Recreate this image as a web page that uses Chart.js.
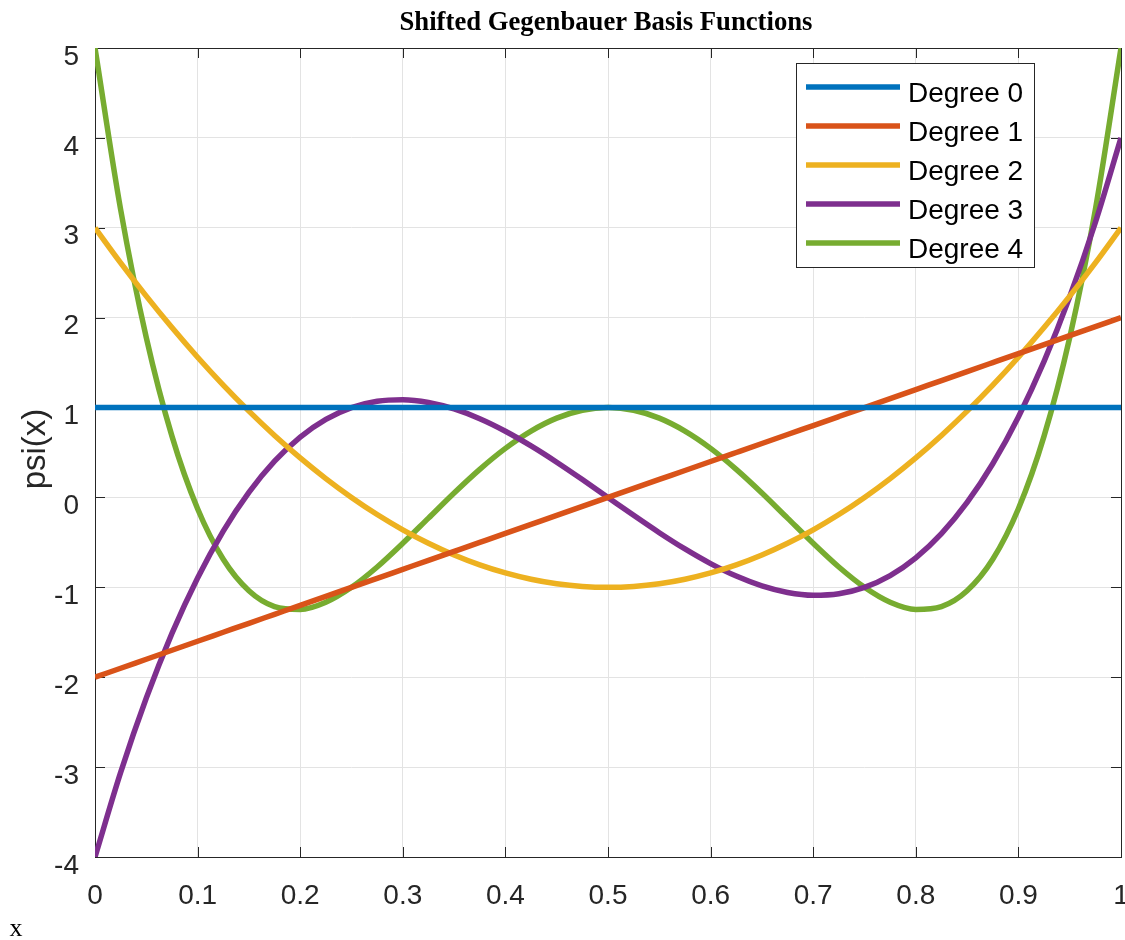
<!DOCTYPE html>
<html>
<head>
<meta charset="utf-8">
<script src="https://cdn.jsdelivr.net/npm/chart.js@4.4.1/dist/chart.umd.min.js"></script>
<style>
  html, body { margin: 0; padding: 0; background: #ffffff; }
  #wrap { width: 1125px; height: 940px; position: relative; }
</style>
</head>
<body>
<div id="wrap"><canvas id="c" width="1125" height="940"></canvas></div>
<script>
const titleText = 'Shifted Gegenbauer Basis Functions';
const xLabelText = 'x';
const yLabelText = 'psi(x)';
const seriesLabels = ['Degree 0', 'Degree 1', 'Degree 2', 'Degree 3', 'Degree 4'];
const seriesColors = ['#0072BD', '#D95319', '#EDB120', '#7E2F8E', '#77AC30'];

const xTicks = [0, 0.1, 0.2, 0.3, 0.4, 0.5, 0.6, 0.7, 0.8, 0.9, 1];
const xTickLabels = ['0', '0.1', '0.2', '0.3', '0.4', '0.5', '0.6', '0.7', '0.8', '0.9', '1'];
const yTicks = [-4, -3, -2, -1, 0, 1, 2, 3, 4, 5];
const yTickLabels = ['-4', '-3', '-2', '-1', '0', '1', '2', '3', '4', '5'];

const xValues = [0, 0.025, 0.05, 0.075, 0.1, 0.125, 0.15, 0.175, 0.2, 0.225,
  0.25, 0.275, 0.3, 0.325, 0.35, 0.375, 0.4, 0.425, 0.45, 0.475,
  0.5, 0.525, 0.55, 0.575, 0.6, 0.625, 0.65, 0.675, 0.7, 0.725,
  0.75, 0.775, 0.8, 0.825, 0.85, 0.875, 0.9, 0.925, 0.95, 0.975, 1];

const degree0 = [1, 1, 1, 1, 1, 1, 1, 1, 1, 1,
  1, 1, 1, 1, 1, 1, 1, 1, 1, 1,
  1, 1, 1, 1, 1, 1, 1, 1, 1, 1,
  1, 1, 1, 1, 1, 1, 1, 1, 1, 1, 1];

const degree1 = [-2, -1.9, -1.8, -1.7, -1.6, -1.5, -1.4, -1.3, -1.2, -1.1,
  -1, -0.9, -0.8, -0.7, -0.6, -0.5, -0.4, -0.3, -0.2, -0.1,
  0, 0.1, 0.2, 0.3, 0.4, 0.5, 0.6, 0.7, 0.8, 0.9,
  1, 1.1, 1.2, 1.3, 1.4, 1.5, 1.6, 1.7, 1.8, 1.9, 2];

const degree2 = [3, 2.61, 2.24, 1.89, 1.56, 1.25, 0.96, 0.69, 0.44, 0.21,
  0, -0.19, -0.36, -0.51, -0.64, -0.75, -0.84, -0.91, -0.96, -0.99,
  -1, -0.99, -0.96, -0.91, -0.84, -0.75, -0.64, -0.51, -0.36, -0.19,
  0, 0.21, 0.44, 0.69, 0.96, 1.25, 1.56, 1.89, 2.24, 2.61, 3];

const degree3 = [-4, -3.059, -2.232, -1.513, -0.896, -0.375, 0.056, 0.403, 0.672, 0.869,
  1, 1.071, 1.088, 1.057, 0.984, 0.875, 0.736, 0.573, 0.392, 0.199,
  0, -0.199, -0.392, -0.573, -0.736, -0.875, -0.984, -1.057, -1.088, -1.071,
  -1, -0.869, -0.672, -0.403, -0.056, 0.375, 0.896, 1.513, 2.232, 3.059, 4];

const degree4 = [5, 3.202, 1.778, 0.682, -0.126, -0.688, -1.038, -1.214, -1.246, -1.166,
  -1, -0.774, -0.51, -0.23, 0.05, 0.313, 0.546, 0.738, 0.882, 0.97,
  1, 0.97, 0.882, 0.738, 0.546, 0.313, 0.05, -0.23, -0.51, -0.774,
  -1, -1.166, -1.246, -1.214, -1.038, -0.688, -0.126, 0.682, 1.778, 3.202, 5];

const seriesValues = [degree0, degree1, degree2, degree3, degree4];

const SANS = '"Liberation Sans", Arial, Helvetica, sans-serif';
const SERIF = '"Liberation Serif", "Times New Roman", serif';
const AXIS_COLOR = '#262626';

const datasets = seriesValues.map((vals, k) => ({
  label: seriesLabels[k],
  data: xValues.map((x, i) => ({ x: x, y: vals[i] })),
  borderColor: seriesColors[k],
  backgroundColor: seriesColors[k],
  borderWidth: 5.5,
  pointRadius: 0,
  pointHoverRadius: 0,
  fill: false,
  cubicInterpolationMode: 'monotone'
}));

const framePlugin = {
  id: 'frame',
  beforeDatasetsDraw(chart) {
    const { ctx, chartArea: a, scales } = chart;
    ctx.save();
    ctx.strokeStyle = AXIS_COLOR;
    ctx.lineWidth = 1;
    ctx.beginPath();
    const tl = 10;
    xTicks.forEach(v => {
      const px = Math.round(scales.x.getPixelForValue(v)) + 0.5;
      ctx.moveTo(px, a.bottom); ctx.lineTo(px, a.bottom - tl);
      ctx.moveTo(px, a.top); ctx.lineTo(px, a.top + tl);
    });
    yTicks.forEach(v => {
      const py = Math.round(scales.y.getPixelForValue(v)) + 0.5;
      ctx.moveTo(a.left, py); ctx.lineTo(a.left + tl, py);
      ctx.moveTo(a.right, py); ctx.lineTo(a.right - tl, py);
    });
    ctx.stroke();
    ctx.strokeRect(Math.round(a.left) + 0.5, Math.round(a.top) + 0.5,
      Math.round(a.right - a.left), Math.round(a.bottom - a.top));
    ctx.restore();
  },
  afterDraw(chart) {
    const { ctx, chartArea: a } = chart;
    ctx.save();
    // title
    ctx.fillStyle = '#000000';
    ctx.font = 'bold 26.7px ' + SERIF;
    ctx.textAlign = 'center';
    ctx.textBaseline = 'alphabetic';
    ctx.fillText(titleText, 606, 30);
    // x label
    ctx.font = '26px ' + SERIF;
    ctx.fillText(xLabelText, 16, 936);
    // y label
    ctx.save();
    ctx.translate(36, 449);
    ctx.rotate(-Math.PI / 2);
    ctx.fillStyle = AXIS_COLOR;
    ctx.font = '33px ' + SANS;
    ctx.textBaseline = 'middle';
    ctx.fillText(yLabelText, 0, 0);
    ctx.restore();
    // legend
    const bx = 796.5, by = 63.5, bw = 238, bh = 204;
    ctx.fillStyle = '#ffffff';
    ctx.fillRect(bx, by, bw, bh);
    ctx.strokeStyle = AXIS_COLOR;
    ctx.lineWidth = 1;
    ctx.strokeRect(bx, by, bw, bh);
    ctx.font = '28px ' + SANS;
    ctx.textAlign = 'left';
    ctx.textBaseline = 'middle';
    chart.data.datasets.forEach((ds, k) => {
      const ry = 87 + k * 39;
      ctx.strokeStyle = ds.borderColor;
      ctx.lineWidth = 5.5;
      ctx.beginPath();
      ctx.moveTo(806, ry);
      ctx.lineTo(900, ry);
      ctx.stroke();
      ctx.fillStyle = '#000000';
      ctx.fillText(ds.label, 908, ry + 7);
    });
    ctx.restore();
  }
};

new Chart(document.getElementById('c'), {
  type: 'line',
  data: { datasets: datasets },
  options: {
    responsive: false,
    animation: false,
    devicePixelRatio: 1,
    layout: { padding: { top: 48, right: 4, left: 0, bottom: 0 } },
    plugins: {
      legend: { display: false },
      title: { display: false },
      tooltip: { enabled: false }
    },
    scales: {
      x: {
        type: 'linear',
        min: 0,
        max: 1,
        afterBuildTicks: s => { s.ticks = xTicks.map(v => ({ value: v })); },
        afterFit: s => { s.height = 83; s.paddingLeft = 0; s.paddingRight = 0; },
        ticks: {
          autoSkip: false,
          maxRotation: 0,
          padding: 22,
          color: AXIS_COLOR,
          font: { family: SANS, size: 28 },
          callback: (v, i) => xTickLabels[i]
        },
        grid: { color: '#e3e3e3', lineWidth: 1, drawTicks: false },
        border: { display: false }
      },
      y: {
        type: 'linear',
        min: -4,
        max: 5,
        afterBuildTicks: s => { s.ticks = yTicks.map(v => ({ value: v })); },
        afterFit: s => { s.width = 95; s.paddingTop = 0; s.paddingBottom = 0; },
        ticks: {
          autoSkip: false,
          padding: 16,
          labelOffset: 9,
          color: AXIS_COLOR,
          font: { family: SANS, size: 28 },
          callback: (v, i) => yTickLabels[i]
        },
        grid: { color: '#e3e3e3', lineWidth: 1, drawTicks: false },
        border: { display: false }
      }
    }
  },
  plugins: [framePlugin]
});
</script>
</body>
</html>
